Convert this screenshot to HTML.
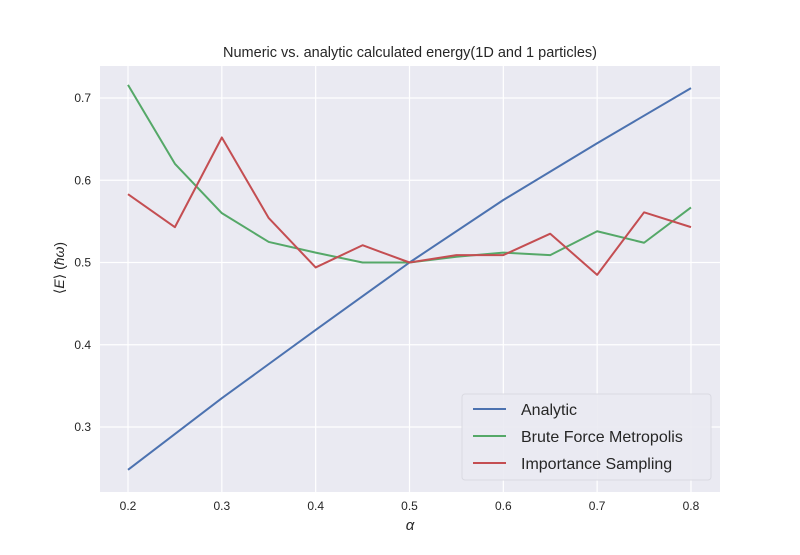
<!DOCTYPE html>
<html><head><meta charset="utf-8"><style>
body{margin:0;background:#fff;font-family:"Liberation Sans",sans-serif;}
svg text{font-family:"Liberation Sans","DejaVu Sans",sans-serif;}
</style></head><body>
<svg id="chart" width="800" height="550" viewBox="0 0 800 550">
<rect x="0" y="0" width="800" height="550" fill="#fff"/>
<rect x="100" y="66" width="620" height="426" fill="#eaeaf2"/>
<g id="grid"></g>
<g id="series"></g>
<g id="ticks"></g>
<text x="410" y="57" text-anchor="middle" font-size="14.5" fill="#262626">Numeric vs. analytic calculated energy(1D and 1 particles)</text>
<text x="410" y="530" text-anchor="middle" font-size="15" font-style="italic" fill="#262626">α</text>
<text transform="translate(64,268) rotate(-90)" text-anchor="middle" font-size="14" fill="#262626">⟨<tspan font-style="italic">E</tspan>⟩ (<tspan font-style="italic">ħω</tspan>)</text>
<g>
<rect x="462" y="394" width="249" height="86" rx="3" fill="#eaeaf2" stroke="#d8d8e0" opacity="0.9"/>
<g id="legend-items"></g>
</g>
</svg>
<script>
const alphas=[0.2,0.25,0.3,0.35,0.4,0.45,0.5,0.55,0.6,0.65,0.7,0.75,0.8];
const analyticX=[0.2,0.3,0.4,0.5,0.6,0.7,0.8];
const analyticY=[0.248,0.335,0.418,0.5,0.576,0.645,0.712];
const bruteY=[0.716,0.620,0.560,0.525,0.512,0.500,0.500,0.507,0.512,0.509,0.538,0.524,0.567];
const importanceY=[0.583,0.543,0.652,0.554,0.494,0.521,0.500,0.509,0.509,0.535,0.485,0.561,0.543];
const xTicks=[0.2,0.3,0.4,0.5,0.6,0.7,0.8];
const yTicks=[0.3,0.4,0.5,0.6,0.7];
const seriesNames=["Analytic","Brute Force Metropolis","Importance Sampling"];
const colors=["#4c72b0","#55a868","#c44e52"];
const NS="http://www.w3.org/2000/svg";
function xs(v){return 128+(v-0.2)*938.3;}
function ys(v){return 98+(0.7-v)*822.5;}
function mk(t,a,p){const e=document.createElementNS(NS,t);for(const k in a)e.setAttribute(k,a[k]);p.appendChild(e);return e;}
const grid=document.getElementById('grid'),ticks=document.getElementById('ticks');
xTicks.forEach(v=>{
 const l=mk('line',{x1:xs(v),x2:xs(v),y1:66,y2:492,stroke:'#fff','stroke-width':1.2},grid);
 
 
 const t=mk('text',{x:xs(v),y:510,'text-anchor':'middle','font-size':12,fill:'#262626'},ticks);
 t.textContent=v.toFixed(1);
 
 
});
yTicks.forEach(v=>{
 const l=mk('line',{x1:100,x2:720,y1:ys(v),y2:ys(v),stroke:'#fff','stroke-width':1.2},grid);
 
 
 const t=mk('text',{x:91,y:ys(v)+4,'text-anchor':'end','font-size':12,fill:'#262626'},ticks);
 t.textContent=v.toFixed(1);
 
 
});
const ser=document.getElementById('series');
const data=[[analyticX,analyticY],[alphas,bruteY],[alphas,importanceY]];
data.forEach((d,i)=>{
 const pts=d[0].map((x,j)=>xs(x)+','+ys(d[1][j])).join(' ');
 const p=mk('polyline',{points:pts,fill:'none',stroke:colors[i],'stroke-width':2,'stroke-linejoin':'round'},ser);
 
 
});
const leg=document.getElementById('legend-items');
seriesNames.forEach((n,i)=>{
 const y=409+i*27;
 const l=mk('line',{x1:473,x2:506,y1:y,y2:y,stroke:colors[i],'stroke-width':2},leg);
 
 
 const t=mk('text',{x:521,y:y+6,'font-size':16,fill:'#262626'},leg);
 t.textContent=n;
 
 
});
</script>
</body></html>
